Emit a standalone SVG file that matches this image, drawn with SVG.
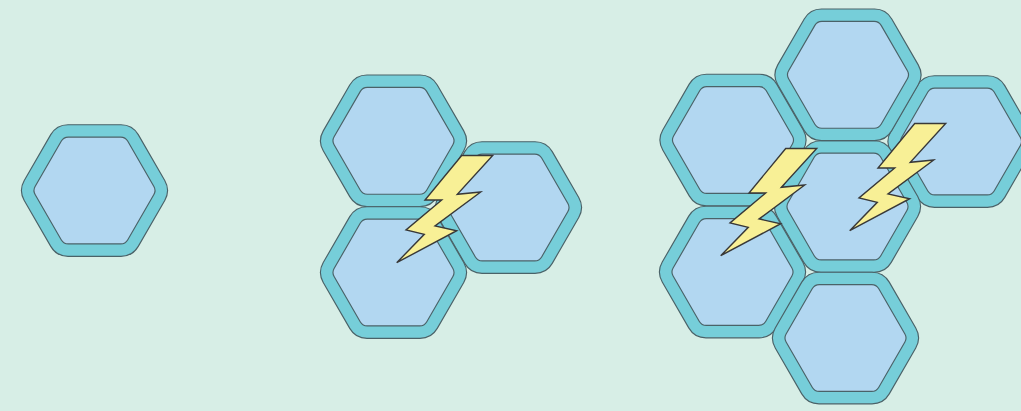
<svg xmlns="http://www.w3.org/2000/svg" width="1021" height="411" viewBox="0 0 1021 411">
<style>
.outer{fill:#76ced9;stroke:#4a6268;stroke-width:1.15}
.inner{fill:#b2d7f1;stroke:#4a6268;stroke-width:1.15}
.bolt{fill:#f8f096;stroke:#383838;stroke-width:1.4;stroke-linejoin:miter}
</style>
<defs>
<g id="hex">
<path class="outer" d="M-26.5,-65.8H26.5A20,20 0 0 1 43.75,-55.84L70.25,-9.96A20,20 0 0 1 70.25,9.96L43.75,55.84A20,20 0 0 1 26.5,65.8H-26.5A20,20 0 0 1 -43.75,55.84L-70.25,9.96A20,20 0 0 1 -70.25,-9.96L-43.75,-55.84A20,20 0 0 1 -26.5,-65.8Z"/>
<path class="inner" d="M-26.25,-53.4H26.25A8,8 0 0 1 33.15,-49.42L59.4,-3.98A8,8 0 0 1 59.4,3.98L33.15,49.42A8,8 0 0 1 26.25,53.4H-26.25A8,8 0 0 1 -33.15,49.42L-59.4,3.98A8,8 0 0 1 -59.4,-3.98L-33.15,-49.42A8,8 0 0 1 -26.25,-53.4Z"/>
</g>
<polygon id="bolt" class="bolt" points="461.7,155.5 492.7,155.5 457.3,194.3 480.7,192 435,226 456.7,230.7 396.7,262.7 424.3,234.3 406,230 441.7,200 425,200"/>
</defs>
<rect width="1021" height="411" fill="#d7eee6"/>
<g id="hex-single"><use href="#hex" x="94.5" y="190.5"/></g>
<g id="cluster-3">
<g id="c3-right"><use href="#hex" x="508.5" y="207.5"/></g>
<g id="c3-top"><use href="#hex" x="393.5" y="140.8"/></g>
<g id="c3-bottom"><use href="#hex" x="393.5" y="272.5"/></g>
<g id="c3-bolt"><use href="#bolt"/></g>
</g>
<g id="cluster-6">
<g id="c6-right"><use href="#hex" x="961" y="141.5"/></g>
<g id="c6-centre"><use href="#hex" x="847.5" y="206.5"/></g>
<g id="c6-left-top"><use href="#hex" x="733" y="140"/></g>
<g id="c6-top"><use href="#hex" x="848" y="74.8"/></g>
<g id="c6-left-bottom"><use href="#hex" x="732.5" y="272"/></g>
<g id="c6-bottom"><use href="#hex" x="845.5" y="338"/></g>
<g id="c6-bolt-left"><use href="#bolt" x="324" y="-7"/></g>
<g id="c6-bolt-right"><use href="#bolt" x="453" y="-32"/></g>
</g>
<g id="connectors"/>
</svg>
